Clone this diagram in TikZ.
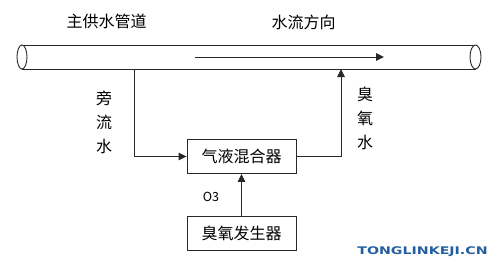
\documentclass[tikz,border=0pt]{standalone}
\usepackage{fontspec}
\newfontfamily\cjk{Noto Sans CJK SC}
\newfontfamily\wmfont[FakeStretch=1.35]{DejaVu Sans}
\usepackage{tikz}
\usetikzlibrary{arrows.meta,positioning,calc}
\usepackage{xcolor}
\definecolor{pipeline}{RGB}{40,40,40}
\definecolor{markblue}{RGB}{35,95,160}
\tikzset{
    unitbox/.style={draw=pipeline, line width=0.9pt, minimum width=109pt,
                    minimum height=34pt, inner sep=0pt, align=center,
                    font=\cjk\fontsize{16}{18}\selectfont},
    lbl/.style={inner sep=0pt, font=\cjk\fontsize{16}{18}\selectfont,
                align=center},
    vlbl/.style={inner sep=0pt, font=\cjk\fontsize{16}{24}\selectfont,
                 align=center},
    flow/.style={draw=pipeline, line width=0.9pt,
                 -{Triangle[length=8pt,width=7.5pt]}},
    wall/.style={draw=pipeline, line width=0.9pt},
}

\begin{document}
\begin{tikzpicture}[x=1pt, y=-1pt]
    \useasboundingbox (0,0) rectangle (500,262);
    % main pipe
    \draw[wall] (22,45) -- (475.5,45);
    \draw[wall] (22,69) -- (475.5,69);
    \draw[wall, fill=white] (22,57) ellipse [x radius=5, y radius=12];
    \draw[wall, fill=white] (475.5,57) ellipse [x radius=5.5, y radius=12];
    \coordinate (flowstart) at (195,57);
    \coordinate (flowend) at (384,57);
    \coordinate (tapout) at (134,69);
    \coordinate (tapin) at (341,69);
    \draw[flow] (flowstart) -- (flowend);

    \node[lbl] (mainpipe) at (106.5,21) {主供水管道};
    \node[lbl] (flowdir) at (303.5,22) {水流方向};

    \node[unitbox] (mixer) at (241.5,156.5) {气液混合器};
    \node[unitbox] (ozgen) at (241.5,233.5) {臭氧发生器};

    \draw[flow] (tapout) |- (mixer.west);
    \draw[flow] (mixer.east) -| (tapin);
    \draw[flow] (ozgen.north) -- (mixer.south);

    \node[vlbl] (bypass) at (104,122) {旁\\流\\水};
    \node[vlbl] (ozwater) at (365,118) {臭\\氧\\水};
    \node[inner sep=0pt, font=\cjk\fontsize{12.5}{14}\selectfont] (othree) at (211,197) {O3};

    \node[inner sep=0pt, text=markblue, font=\wmfont\bfseries\fontsize{10.5}{12}\selectfont] (mark) at (422.5,252) {TONGLINKEJI.CN};
\end{tikzpicture}
\end{document}
